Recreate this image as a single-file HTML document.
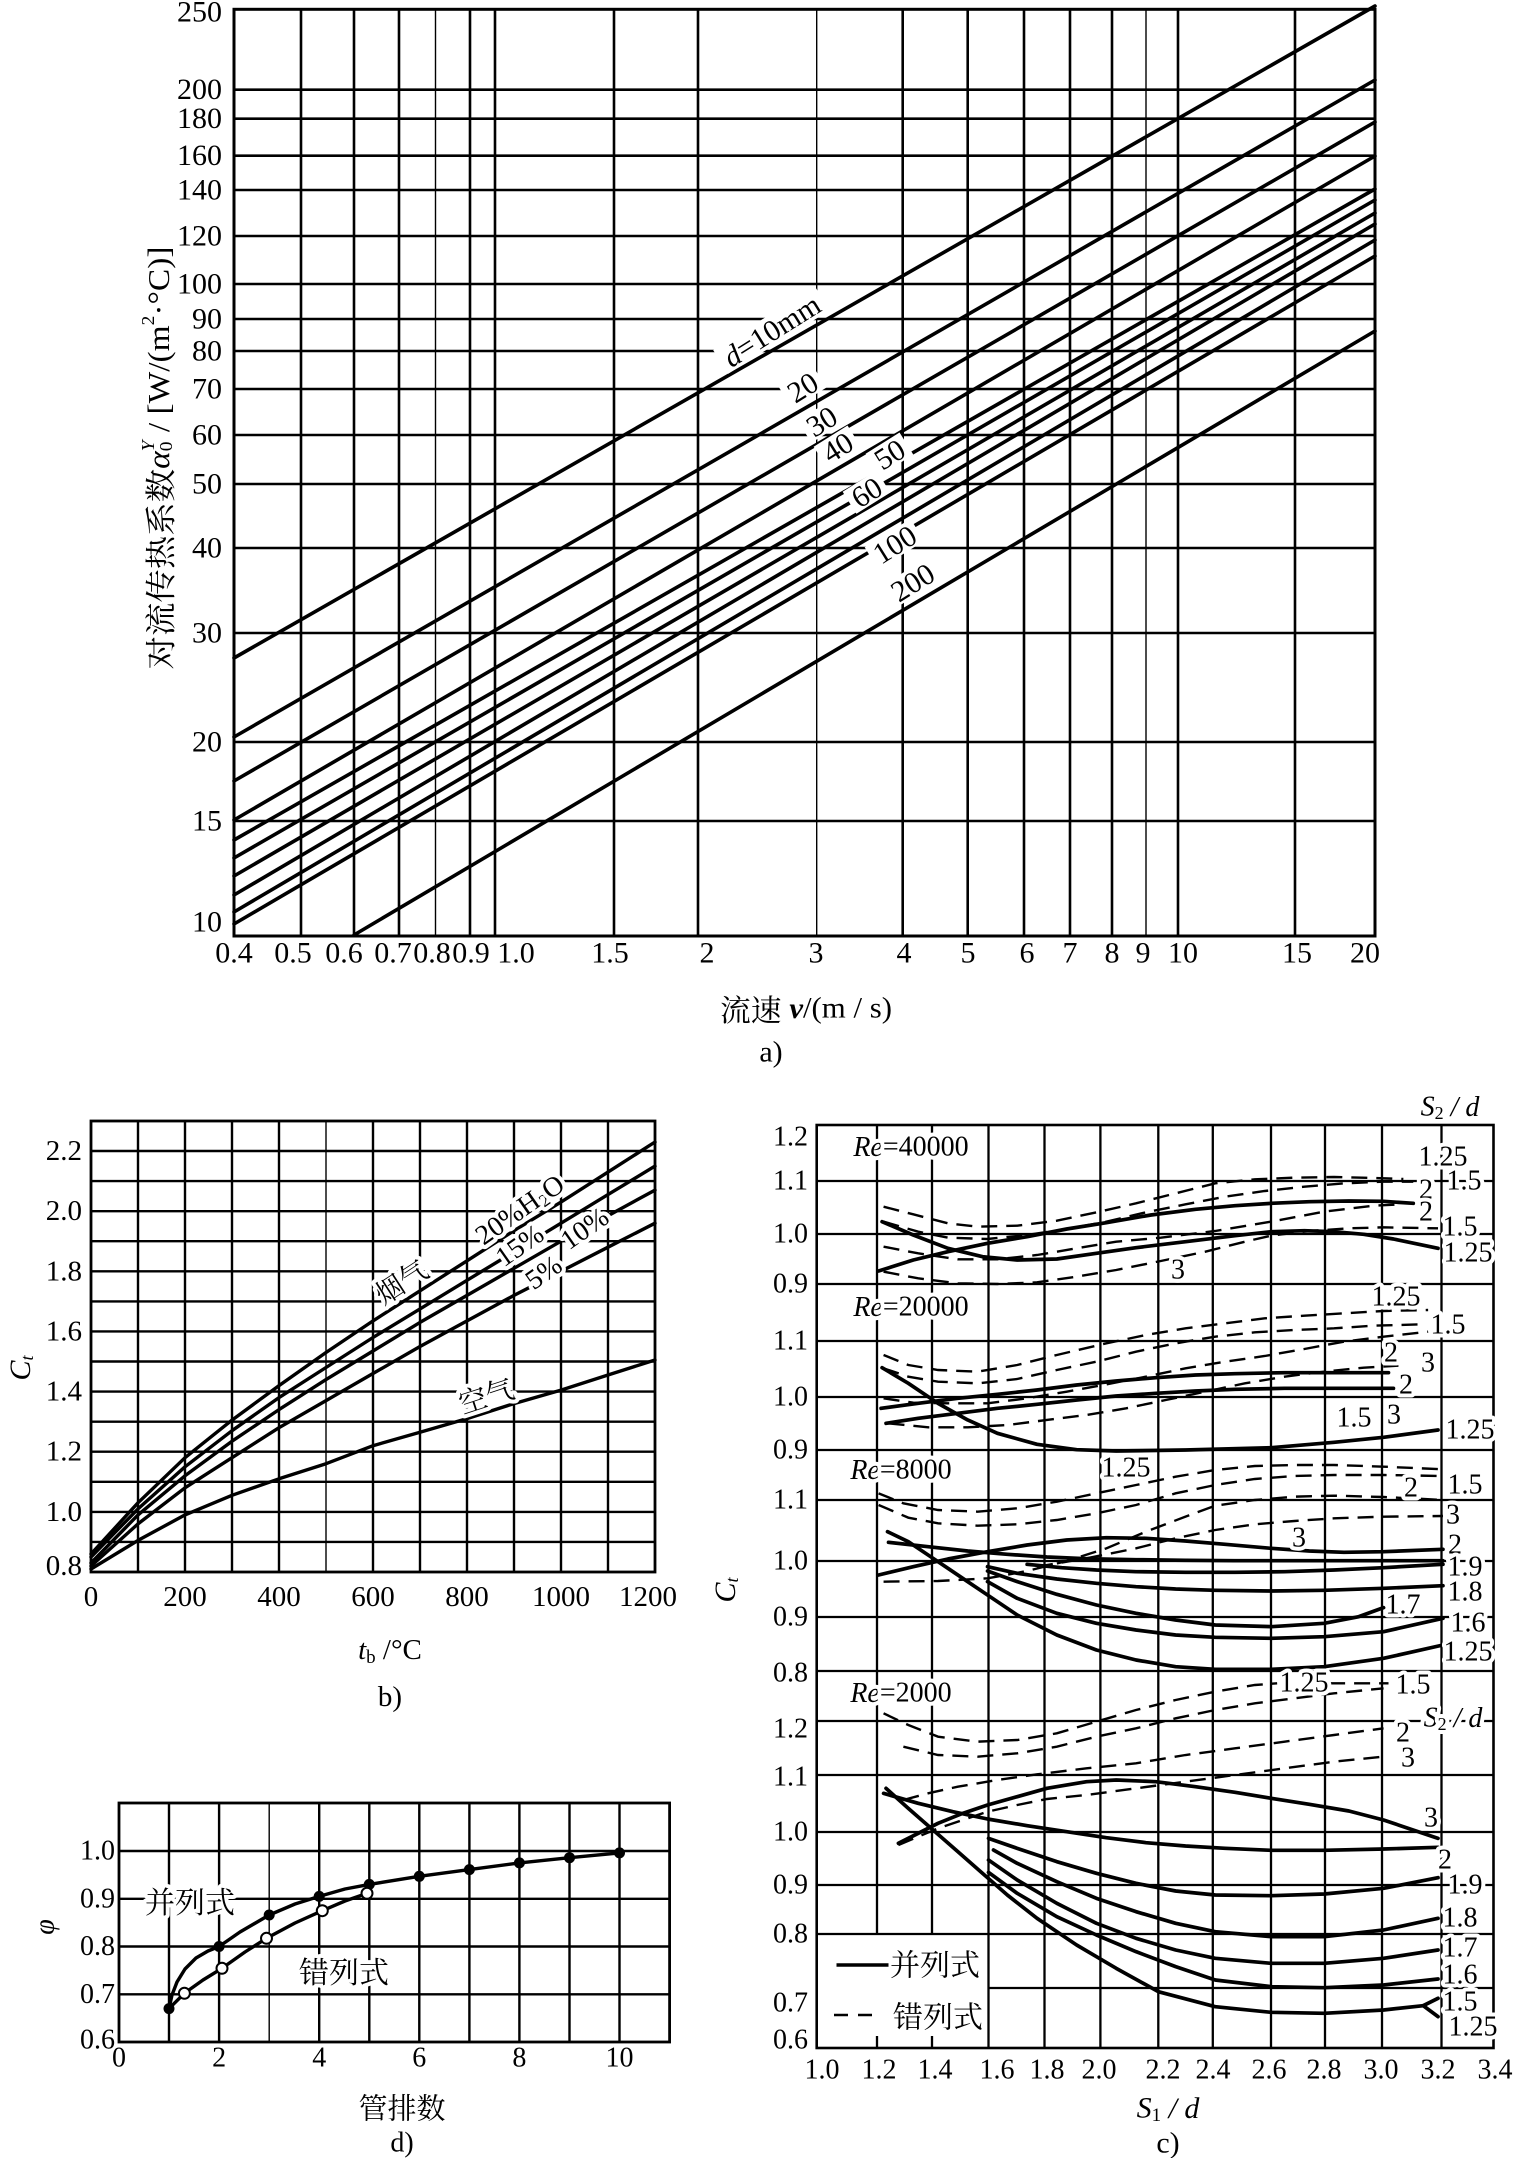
<!DOCTYPE html>
<html><head><meta charset="utf-8"><style>
html,body{margin:0;padding:0;background:#fff;width:1516px;height:2158px;overflow:hidden}
svg{display:block}
text{font-family:"Liberation Serif","Noto Serif CJK SC",serif;fill:#000}
.g{stroke:#000;stroke-width:2.6;fill:none}
.gt{stroke:#000;stroke-width:1.4;fill:none}
.c{stroke:#000;stroke-width:3.6;fill:none;stroke-linejoin:round;stroke-linecap:round}
.cs{stroke:#000;stroke-width:3.7;fill:none;stroke-linejoin:round;stroke-linecap:round;vector-effect:non-scaling-stroke}
.cd{stroke:#000;stroke-width:2.4;fill:none;stroke-dasharray:16 9;vector-effect:non-scaling-stroke}
.h{paint-order:stroke;stroke:#fff;stroke-width:8px;stroke-linejoin:round}
.cj{font-family:"Noto Serif CJK SC","Liberation Serif",serif}
</style></head><body>
<svg width="1516" height="2158" viewBox="0 0 1516 2158" xmlns="http://www.w3.org/2000/svg">
<rect width="1516" height="2158" fill="#fff"/>

<!-- ============ CHART A ============ -->
<g>
<g class="g">
<line x1="234" y1="89.7" x2="1375" y2="89.7"/><line x1="234" y1="118.7" x2="1375" y2="118.7"/>
<line x1="234" y1="155.7" x2="1375" y2="155.7"/><line x1="234" y1="190" x2="1375" y2="190"/>
<line x1="234" y1="236" x2="1375" y2="236"/><line x1="234" y1="284" x2="1375" y2="284"/>
<line x1="234" y1="319" x2="1375" y2="319"/><line x1="234" y1="351" x2="1375" y2="351"/>
<line x1="234" y1="389" x2="1375" y2="389"/><line x1="234" y1="435" x2="1375" y2="435"/>
<line x1="234" y1="484" x2="1375" y2="484"/><line x1="234" y1="548" x2="1375" y2="548"/>
<line x1="234" y1="633" x2="1375" y2="633"/><line x1="234" y1="742" x2="1375" y2="742"/>
<line x1="234" y1="821" x2="1375" y2="821"/>
<line x1="301" y1="9.3" x2="301" y2="936"/><line x1="354" y1="9.3" x2="354" y2="936"/>
<line x1="399" y1="9.3" x2="399" y2="936"/><line x1="470" y1="9.3" x2="470" y2="936"/>
<line x1="495" y1="9.3" x2="495" y2="936"/><line x1="614" y1="9.3" x2="614" y2="936"/>
<line x1="698" y1="9.3" x2="698" y2="936"/><line x1="902.7" y1="9.3" x2="902.7" y2="936"/>
<line x1="967.7" y1="9.3" x2="967.7" y2="936"/><line x1="1024" y1="9.3" x2="1024" y2="936"/>
<line x1="1070" y1="9.3" x2="1070" y2="936"/><line x1="1112" y1="9.3" x2="1112" y2="936"/>
<line x1="1178" y1="9.3" x2="1178" y2="936"/><line x1="1295" y1="9.3" x2="1295" y2="936"/>
</g>
<g class="gt">
<line x1="435.5" y1="9.3" x2="435.5" y2="936"/><line x1="816.7" y1="9.3" x2="816.7" y2="936"/>
<line x1="1146" y1="9.3" x2="1146" y2="936"/>
</g>
<rect x="234" y="9.3" width="1141" height="926.7" fill="none" stroke="#000" stroke-width="3"/>
<g class="c">
<line x1="234" y1="658" x2="1375" y2="6"/>
<line x1="234" y1="737" x2="1375" y2="80"/>
<line x1="234" y1="781" x2="1375" y2="122"/>
<line x1="234" y1="820" x2="1375" y2="156"/>
<line x1="234" y1="840" x2="1375" y2="189"/>
<line x1="234" y1="858" x2="1375" y2="200"/>
<line x1="234" y1="876" x2="1375" y2="213"/>
<line x1="234" y1="895" x2="1375" y2="224"/>
<line x1="234" y1="912" x2="1375" y2="240"/>
<line x1="234" y1="924" x2="1375" y2="256"/>
<line x1="354" y1="935" x2="1375" y2="331"/>
</g>
<!-- line labels -->
<g font-size="30" text-anchor="middle" dominant-baseline="central">
<g transform="translate(772,331) rotate(-32)"><rect x="-60" y="-15" width="120" height="28" fill="#fff"/><text><tspan font-style="italic">d</tspan>=10mm</text></g>
<g transform="translate(803,388) rotate(-32)"><rect x="-20" y="-14" width="40" height="26" fill="#fff"/><text>20</text></g>
<g transform="translate(822,422) rotate(-32)"><rect x="-20" y="-14" width="40" height="26" fill="#fff"/><text>30</text></g>
<g transform="translate(838,448) rotate(-32)"><rect x="-20" y="-14" width="40" height="26" fill="#fff"/><text>40</text></g>
<g transform="translate(890,455) rotate(-32)"><rect x="-20" y="-14" width="40" height="26" fill="#fff"/><text>50</text></g>
<g transform="translate(867,493) rotate(-32)"><rect x="-20" y="-14" width="40" height="26" fill="#fff"/><text>60</text></g>
<g transform="translate(895,545) rotate(-32)"><rect x="-27" y="-14" width="54" height="26" fill="#fff"/><text>100</text></g>
<g transform="translate(913,583) rotate(-32)"><rect x="-27" y="-14" width="54" height="26" fill="#fff"/><text>200</text></g>
</g>
<!-- y tick labels -->
<g font-size="30" text-anchor="end" dominant-baseline="central">
<text x="222" y="12">250</text><text x="222" y="89.7">200</text><text x="222" y="118.7">180</text>
<text x="222" y="155.7">160</text><text x="222" y="190">140</text><text x="222" y="236">120</text>
<text x="222" y="284">100</text><text x="222" y="319">90</text><text x="222" y="351">80</text>
<text x="222" y="389">70</text><text x="222" y="435">60</text><text x="222" y="484">50</text>
<text x="222" y="548">40</text><text x="222" y="633">30</text><text x="222" y="742">20</text>
<text x="222" y="821">15</text><text x="222" y="922">10</text>
</g>
<!-- x tick labels -->
<g font-size="30" text-anchor="middle" dominant-baseline="central">
<text x="234" y="953">0.4</text><text x="293" y="953">0.5</text><text x="344" y="953">0.6</text>
<text x="393" y="953">0.7</text><text x="432" y="953">0.8</text><text x="471" y="953">0.9</text>
<text x="516" y="953">1.0</text><text x="610" y="953">1.5</text><text x="707" y="953">2</text>
<text x="816" y="953">3</text><text x="904" y="953">4</text><text x="968" y="953">5</text>
<text x="1027" y="953">6</text><text x="1070" y="953">7</text><text x="1112" y="953">8</text>
<text x="1143" y="953">9</text><text x="1183" y="953">10</text><text x="1297" y="953">15</text>
<text x="1365" y="953">20</text>
</g>
<text x="720" y="1008" font-size="30" dominant-baseline="central" textLength="172" lengthAdjust="spacingAndGlyphs"><tspan class="cj">流速</tspan> <tspan font-style="italic" font-weight="bold">v</tspan>/(m / s)</text>
<text x="771" y="1052" font-size="30" text-anchor="middle" dominant-baseline="central">a)</text>
<text transform="translate(158,458) rotate(-90)" font-size="31" text-anchor="middle" dominant-baseline="central" textLength="423" lengthAdjust="spacingAndGlyphs"><tspan class="cj">对流传热系数</tspan><tspan font-style="italic">α</tspan><tspan font-size="18" dy="8">0</tspan><tspan font-size="18" dx="-9" dy="-18" font-style="italic">Y</tspan><tspan dy="10"> / [W/(m</tspan><tspan font-size="18" dy="-10">2</tspan><tspan dy="10">·°C)]</tspan></text>
</g>

<!-- ============ CHART B ============ -->
<g>
<g class="g" style="stroke-width:2.4">
<line x1="138" y1="1121" x2="138" y2="1572"/><line x1="185" y1="1121" x2="185" y2="1572"/>
<line x1="232" y1="1121" x2="232" y2="1572"/><line x1="279" y1="1121" x2="279" y2="1572"/>
<line x1="373" y1="1121" x2="373" y2="1572"/><line x1="420" y1="1121" x2="420" y2="1572"/>
<line x1="467" y1="1121" x2="467" y2="1572"/><line x1="514" y1="1121" x2="514" y2="1572"/>
<line x1="561" y1="1121" x2="561" y2="1572"/><line x1="608" y1="1121" x2="608" y2="1572"/>
<line x1="91" y1="1541.9" x2="655" y2="1541.9"/><line x1="91" y1="1511.9" x2="655" y2="1511.9"/>
<line x1="91" y1="1481.8" x2="655" y2="1481.8"/><line x1="91" y1="1451.7" x2="655" y2="1451.7"/>
<line x1="91" y1="1421.7" x2="655" y2="1421.7"/><line x1="91" y1="1391.6" x2="655" y2="1391.6"/>
<line x1="91" y1="1361.5" x2="655" y2="1361.5"/><line x1="91" y1="1331.4" x2="655" y2="1331.4"/>
<line x1="91" y1="1301.4" x2="655" y2="1301.4"/><line x1="91" y1="1271.3" x2="655" y2="1271.3"/>
<line x1="91" y1="1241.2" x2="655" y2="1241.2"/><line x1="91" y1="1211.2" x2="655" y2="1211.2"/>
<line x1="91" y1="1181.1" x2="655" y2="1181.1"/><line x1="91" y1="1151" x2="655" y2="1151"/>
</g>
<line class="gt" x1="326" y1="1121" x2="326" y2="1572"/>
<rect x="91" y="1121" width="564" height="451" fill="none" stroke="#000" stroke-width="2.8"/>
<g class="c" style="stroke-width:3.4">
<polyline points="91,1554 138,1502.8 185,1457.7 232,1420.1 279,1385.6 326,1352.5 373,1320.9 420,1290.8 467,1260.8 514,1230.7 561,1202.1 608,1172.1 655,1142"/>
<polyline points="91,1557 138,1508.9 185,1466.8 232,1430.7 279,1397.6 326,1367.5 373,1337.5 420,1308.9 467,1280.3 514,1251.8 561,1223.2 608,1194.6 655,1166.1"/>
<polyline points="91,1563 138,1514.9 185,1475.8 232,1441.2 279,1409.6 326,1379.6 373,1351 420,1322.4 467,1295.4 514,1268.3 561,1241.2 608,1215.7 655,1190.1"/>
<polyline points="91,1566 138,1523.9 185,1487.8 232,1457.7 279,1427.7 326,1400.6 373,1373.5 420,1346.5 467,1320.9 514,1295.4 561,1271.3 608,1247.2 655,1223.2"/>
<polyline points="91,1569 138,1540.4 185,1514.9 232,1495.3 279,1478.8 326,1463.7 373,1445.7 420,1432.2 467,1418.6 514,1403.6 561,1390.1 608,1375 655,1360"/>
</g>
<g font-size="28" text-anchor="middle" dominant-baseline="central">
<g transform="translate(401,1281) rotate(-33)"><text class="cj h">烟气</text></g>
<g transform="translate(520,1210) rotate(-35)"><text class="h">20%H<tspan font-size="18" dy="6">2</tspan><tspan dy="-6">O</tspan></text></g>
<g transform="translate(520,1246) rotate(-35)"><text class="h">15%</text></g>
<g transform="translate(585,1229) rotate(-35)"><text class="h">10%</text></g>
<g transform="translate(544,1273) rotate(-35)"><text class="h">5%</text></g>
<g transform="translate(486,1395) rotate(-18)"><text class="cj h">空气</text></g>
</g>
<g font-size="29" text-anchor="end" dominant-baseline="central">
<text x="82" y="1566">0.8</text><text x="82" y="1511.9">1.0</text><text x="82" y="1451.7">1.2</text>
<text x="82" y="1391.6">1.4</text><text x="82" y="1331.4">1.6</text><text x="82" y="1271.3">1.8</text>
<text x="82" y="1211.2">2.0</text><text x="82" y="1151">2.2</text>
</g>
<g font-size="29" text-anchor="middle" dominant-baseline="central">
<text x="91" y="1597">0</text><text x="185" y="1597">200</text><text x="279" y="1597">400</text>
<text x="373" y="1597">600</text><text x="467" y="1597">800</text><text x="561" y="1597">1000</text>
<text x="648" y="1597">1200</text>
<text x="390" y="1650"><tspan font-style="italic">t</tspan><tspan font-size="19" dy="7">b</tspan><tspan dy="-7"> /°C</tspan></text>
<text x="390" y="1697">b)</text>
<text transform="translate(20,1368) rotate(-90)" font-size="30"><tspan font-style="italic">C</tspan><tspan font-size="18" dy="7" font-style="italic">t</tspan></text>
</g>
</g>

<!-- ============ CHART D ============ -->
<g>
<g class="g" style="stroke-width:2.4">
<line x1="169" y1="1803" x2="169" y2="2042"/><line x1="219.1" y1="1803" x2="219.1" y2="2042"/>
<line x1="319.2" y1="1803" x2="319.2" y2="2042"/><line x1="369.3" y1="1803" x2="369.3" y2="2042"/>
<line x1="419.3" y1="1803" x2="419.3" y2="2042"/><line x1="469.4" y1="1803" x2="469.4" y2="2042"/>
<line x1="519.4" y1="1803" x2="519.4" y2="2042"/><line x1="569.5" y1="1803" x2="569.5" y2="2042"/>
<line x1="619.5" y1="1803" x2="619.5" y2="2042"/>
<line x1="119" y1="1994.3" x2="669.6" y2="1994.3"/><line x1="119" y1="1946.5" x2="669.6" y2="1946.5"/>
<line x1="119" y1="1898.8" x2="669.6" y2="1898.8"/><line x1="119" y1="1851" x2="669.6" y2="1851"/>
</g>
<line class="gt" x1="269.2" y1="1803" x2="269.2" y2="2042"/>
<rect x="119" y="1803" width="550.6" height="239" fill="none" stroke="#000" stroke-width="2.8"/>
<g font-size="30" text-anchor="middle" dominant-baseline="central">
<text x="190" y="1900" class="cj h">并列式</text>
<text x="344" y="1970" class="cj h">错列式</text>
</g>
<g class="c" style="stroke-width:3.4">
<polyline points="169,2008.6 172,1995 177,1982 185,1969 196,1958 208,1951 219.1,1946.5 240,1932 269.2,1915 295,1904 319.2,1896.4 345,1889 369.3,1884.4 419.3,1876.3 469.4,1869.6 519.4,1862.9 569.5,1857.7 619.5,1852.9"/>
<polyline points="169,2008.6 184.4,1993.3 203,1980 222,1968.3 245,1952 266.5,1938.3 295,1923 322.3,1910.7 345,1901 367,1893.3"/>
</g>
<g fill="#000">
<circle cx="169" cy="2008.6" r="5.5"/><circle cx="219.1" cy="1946.5" r="5.5"/><circle cx="269.2" cy="1915" r="5.5"/>
<circle cx="319.2" cy="1896.4" r="5.5"/><circle cx="369.3" cy="1884.4" r="5.5"/><circle cx="419.3" cy="1876.3" r="5.5"/>
<circle cx="469.4" cy="1869.6" r="5.5"/><circle cx="519.4" cy="1862.9" r="5.5"/><circle cx="569.5" cy="1857.7" r="5.5"/>
<circle cx="619.5" cy="1852.9" r="5.5"/>
</g>
<g fill="#fff" stroke="#000" stroke-width="2">
<circle cx="184.4" cy="1993.3" r="5.5"/><circle cx="222" cy="1968.3" r="5.5"/><circle cx="266.5" cy="1938.3" r="5.5"/>
<circle cx="322.3" cy="1910.7" r="5.5"/><circle cx="367" cy="1893.3" r="5.5"/>
</g>
<g font-size="28" text-anchor="end" dominant-baseline="central">
<text x="115" y="1851">1.0</text><text x="115" y="1898.8">0.9</text><text x="115" y="1946.5">0.8</text>
<text x="115" y="1994.3">0.7</text><text x="115" y="2040">0.6</text>
</g>
<g font-size="28" text-anchor="middle" dominant-baseline="central">
<text x="119" y="2058">0</text><text x="219.1" y="2058">2</text><text x="319.2" y="2058">4</text>
<text x="419.3" y="2058">6</text><text x="519.4" y="2058">8</text><text x="619.5" y="2058">10</text>
<text x="402" y="2107" class="cj" font-size="29">管排数</text>
<text x="402" y="2143">d)</text>
<text transform="translate(45,1927) rotate(-90)" font-style="italic" font-size="28">φ</text>
</g>
</g>

<!-- ============ CHART C ============ -->
<g>
<g class="g" style="stroke-width:2.3">
<line x1="877" y1="1125" x2="877" y2="1934"/><line x1="932" y1="1125" x2="932" y2="1934"/>
<line x1="877" y1="2036" x2="877" y2="2048"/><line x1="932" y1="2036" x2="932" y2="2048"/>
<line x1="988.5" y1="1125" x2="988.5" y2="2048"/><line x1="1044.5" y1="1125" x2="1044.5" y2="2048"/>
<line x1="1100.4" y1="1125" x2="1100.4" y2="2048"/><line x1="1158.3" y1="1125" x2="1158.3" y2="2048"/>
<line x1="1212.8" y1="1125" x2="1212.8" y2="2048"/><line x1="1271" y1="1125" x2="1271" y2="2048"/>
<line x1="1325" y1="1125" x2="1325" y2="2048"/><line x1="1382" y1="1125" x2="1382" y2="2048"/>
<line x1="1441.5" y1="1125" x2="1441.5" y2="2048"/>
<line x1="816.7" y1="1181" x2="1493.5" y2="1181"/><line x1="816.7" y1="1234" x2="1493.5" y2="1234"/>
<line x1="816.7" y1="1284" x2="1493.5" y2="1284"/><line x1="816.7" y1="1341" x2="1493.5" y2="1341"/>
<line x1="816.7" y1="1397" x2="1493.5" y2="1397"/><line x1="816.7" y1="1450" x2="1493.5" y2="1450"/>
<line x1="816.7" y1="1500" x2="1493.5" y2="1500"/><line x1="816.7" y1="1561" x2="1493.5" y2="1561"/>
<line x1="816.7" y1="1617" x2="1493.5" y2="1617"/><line x1="816.7" y1="1671" x2="1493.5" y2="1671"/>
<line x1="816.7" y1="1721" x2="1493.5" y2="1721"/><line x1="816.7" y1="1775" x2="1493.5" y2="1775"/>
<line x1="816.7" y1="1832" x2="1493.5" y2="1832"/><line x1="816.7" y1="1885" x2="1493.5" y2="1885"/>
<line x1="816.7" y1="1934" x2="1493.5" y2="1934"/><line x1="988.5" y1="1988" x2="1493.5" y2="1988"/>
</g>
<rect x="816.7" y="1125" width="676.8" height="923" fill="none" stroke="#000" stroke-width="2.6"/>

<!-- Re=40000 & Re=20000 -->
<g transform="translate(740,1075) scale(0.49505,0.33333)">
<polyline class="cs" points="287,440 350,480 420,520 490,545 560,555 640,552 720,535 800,518 900,500 1000,482 1073,470 1140,467 1200,470 1260,478 1320,492 1410,520"/>
<polyline class="cs" points="280,588 350,555 420,530 500,505 580,485 660,462 740,443 830,420 920,403 1000,392 1073,385 1150,380 1230,378 1300,379 1360,385"/>
<polyline class="cd" points="290,395 350,418 420,445 480,455 560,452 640,437 720,412 800,385 880,355 960,325 1040,313 1120,308 1200,306 1280,309 1340,312"/>
<polyline class="cd" points="290,440 360,470 420,488 500,492 580,480 660,462 740,440 820,412 900,388 980,365 1060,348 1140,335 1220,325 1300,320 1360,320"/>
<polyline class="cd" points="290,515 360,535 440,553 520,553 600,540 680,520 760,500 850,488 960,468 1073,440 1180,410 1280,392 1340,388"/>
<polyline class="cd" points="290,590 360,610 440,625 520,627 600,622 680,605 760,585 850,558 940,530 1020,500 1073,482 1150,468 1230,460 1300,457 1410,460"/>
<polyline class="cs" points="287,878 340,925 400,985 460,1035 520,1075 600,1108 680,1124 760,1128 900,1125 1073,1118 1200,1102 1300,1087 1410,1065"/>
<polyline class="cs" points="285,1000 360,985 440,970 520,958 600,945 680,930 760,918 840,908 920,900 1000,896 1100,893 1200,893 1310,893"/>
<polyline class="cs" points="295,1045 360,1030 440,1015 520,1000 600,988 680,975 760,963 840,955 920,948 1000,943 1100,940 1200,940 1320,940"/>
<polyline class="cd" points="290,840 340,870 400,885 480,890 560,870 640,840 740,805 820,780 900,760 980,745 1060,730 1140,722 1220,715 1300,708 1390,705"/>
<polyline class="cd" points="290,880 340,905 400,920 480,925 560,912 640,885 720,860 800,830 880,805 960,785 1040,772 1120,765 1200,760 1280,752 1380,748"/>
<polyline class="cd" points="290,970 350,983 420,985 500,985 580,970 660,950 740,928 820,905 900,880 980,860 1060,843 1140,822 1220,800 1300,785 1390,770"/>
<polyline class="cd" points="300,1045 380,1057 460,1057 540,1050 620,1035 700,1020 780,1000 860,975 940,950 1020,925 1100,905 1180,890 1260,878 1330,872"/>
</g>
<!-- Re=8000 -->
<g transform="translate(740,1435) scale(0.49505,0.33333)">
<polyline class="cd" points="280,175 330,205 400,225 480,230 560,220 640,200 720,175 800,150 880,125 960,105 1040,93 1120,90 1200,90 1300,95 1420,103"/>
<polyline class="cd" points="280,210 340,248 400,265 480,272 560,268 640,255 720,235 800,210 880,175 960,150 1040,132 1120,123 1200,120 1300,120 1420,123"/>
<polyline class="cd" points="290,440 400,438 500,430 580,408 660,378 740,340 820,290 900,245 960,212 1040,195 1120,185 1200,182 1300,186 1420,195"/>
<polyline class="cd" points="600,395 700,370 800,340 880,310 960,285 1040,268 1120,258 1200,250 1300,245 1420,243"/>
<polyline class="cs" points="280,420 350,395 420,372 500,350 580,330 660,315 740,308 820,310 900,318 980,328 1073,340 1150,348 1220,352 1300,350 1420,343"/>
<polyline class="cs" points="300,322 380,335 460,348 540,358 620,366 700,371 800,374 900,376 1000,377 1100,377 1200,377 1300,377 1420,377"/>
<polyline class="cs" points="580,388 650,398 720,405 800,410 900,412 1000,412 1100,410 1200,405 1300,398 1420,388"/>
<polyline class="cs" points="500,395 560,415 640,432 720,445 800,455 880,462 960,466 1073,468 1180,466 1300,460 1420,452"/>
<polyline class="cs" points="500,408 560,440 640,478 720,510 800,535 880,555 960,570 1073,575 1180,565 1250,545 1300,518"/>
<polyline class="cs" points="500,440 560,490 640,535 720,565 800,585 880,600 960,607 1073,610 1180,605 1300,590 1420,550"/>
<polyline class="cs" points="298,290 340,320 380,360 420,400 460,440 500,480 560,540 640,600 720,645 800,675 880,695 960,703 1073,703 1180,695 1300,670 1420,630"/>
</g>
<!-- Re=2000 -->
<g transform="translate(740,1795) scale(0.49505,0.33333)">
<polyline class="cd" points="290,-245 340,-210 400,-175 480,-160 560,-165 640,-185 720,-220 800,-255 880,-285 960,-310 1040,-330 1085,-335"/>
<polyline class="cd" points="1190,-335 1310,-335"/>
<polyline class="cd" points="330,-145 400,-120 480,-115 560,-125 640,-145 720,-175 800,-200 880,-230 960,-255 1040,-275 1120,-290 1200,-305 1300,-320"/>
<polyline class="cd" points="330,15 380,-5 440,-25 520,-45 600,-62 700,-80 800,-95 900,-120 1000,-140 1100,-160 1200,-180 1300,-200"/>
<polyline class="cd" points="320,150 360,125 400,100 450,75 500,50 560,30 620,12 700,0 800,-20 900,-40 1000,-60 1100,-80 1200,-100 1300,-115"/>
<polyline class="cs" points="320,145 360,115 400,85 450,55 500,30 560,5 620,-20 700,-40 760,-45 840,-40 920,-25 1000,-8 1073,10 1150,28 1230,48 1300,75 1410,130"/>
<polyline class="cs" points="290,-5 360,25 430,50 500,72 580,92 660,110 740,128 820,143 900,153 980,160 1073,166 1180,166 1300,162 1410,157"/>
<polyline class="cs" points="502,130 560,160 640,200 720,235 800,265 880,288 960,300 1073,302 1180,297 1300,280 1410,248"/>
<polyline class="cs" points="512,165 560,205 640,260 720,310 800,350 880,385 960,410 1073,425 1180,425 1300,405 1410,370"/>
<polyline class="cs" points="502,195 560,255 640,325 720,385 800,430 880,465 960,490 1073,505 1180,505 1300,490 1410,465"/>
<polyline class="cs" points="502,232 560,295 640,365 720,420 800,470 880,515 960,555 1073,575 1180,578 1300,570 1410,552"/>
<polyline class="cs" points="295,-20 340,40 390,105 440,170 490,235 540,300 600,370 680,450 760,520 845,590 960,635 1073,652 1180,655 1300,645 1380,632 1410,610"/>
<polyline class="cs" points="1380,632 1410,665"/>
</g>
<!-- legend -->
<line x1="836.5" y1="1965" x2="888.5" y2="1965" stroke="#000" stroke-width="3.6"/>
<line x1="834" y1="2015" x2="876" y2="2015" stroke="#000" stroke-width="2.4" stroke-dasharray="14 10"/>
<g font-size="30" class="cj" text-anchor="middle" dominant-baseline="central">
<text x="935" y="1966">并列式</text><text x="938" y="2018">错列式</text>
</g>
<!-- labels -->
<g font-size="28" text-anchor="middle" dominant-baseline="central">
<text class="h" x="911" y="1147"><tspan font-style="italic">Re</tspan>=40000</text>
<text class="h" x="911" y="1307"><tspan font-style="italic">Re</tspan>=20000</text>
<text class="h" x="901" y="1470"><tspan font-style="italic">Re</tspan>=8000</text>
<text class="h" x="901" y="1693"><tspan font-style="italic">Re</tspan>=2000</text>
<text class="h" x="1443" y="1157">1.25</text><text class="h" x="1464" y="1181">1.5</text>
<text class="h" x="1426" y="1190">2</text><text class="h" x="1426" y="1212">2</text>
<text class="h" x="1460" y="1227">1.5</text><text class="h" x="1468" y="1253">1.25</text>
<text class="h" x="1178" y="1270">3</text>
<text class="h" x="1396" y="1297">1.25</text><text class="h" x="1448" y="1325">1.5</text>
<text class="h" x="1391" y="1353">2</text><text class="h" x="1428" y="1363">3</text>
<text class="h" x="1406" y="1385">2</text><text class="h" x="1354" y="1418">1.5</text>
<text class="h" x="1394" y="1415">3</text><text class="h" x="1470" y="1430">1.25</text>
<text class="h" x="1126" y="1468">1.25</text><text class="h" x="1411" y="1488">2</text>
<text class="h" x="1465" y="1485">1.5</text><text class="h" x="1453" y="1515">3</text>
<text class="h" x="1299" y="1538">3</text><text class="h" x="1455" y="1545">2</text>
<text class="h" x="1465" y="1567">1.9</text><text class="h" x="1465" y="1592">1.8</text>
<text class="h" x="1403" y="1605">1.7</text><text class="h" x="1468" y="1623">1.6</text>
<text class="h" x="1468" y="1652">1.25</text>
<text class="h" x="1304" y="1683">1.25</text><text class="h" x="1413" y="1685">1.5</text>
<text class="h" x="1453" y="1718" font-style="italic">S<tspan font-size="18" dy="6" font-style="normal">2</tspan><tspan dy="-6"> / d</tspan></text>
<text class="h" x="1403" y="1733">2</text><text class="h" x="1408" y="1758">3</text>
<text class="h" x="1431" y="1818">3</text><text class="h" x="1445" y="1860">2</text>
<text class="h" x="1465" y="1885">1.9</text><text class="h" x="1460" y="1918">1.8</text>
<text class="h" x="1460" y="1948">1.7</text><text class="h" x="1460" y="1975">1.6</text>
<text class="h" x="1460" y="2002">1.5</text><text class="h" x="1473" y="2027">1.25</text>
<text x="1450" y="1107" font-style="italic">S<tspan font-size="18" dy="6" font-style="normal">2</tspan><tspan dy="-6"> / d</tspan></text>
</g>
<g font-size="28" text-anchor="end" dominant-baseline="central">
<text x="808" y="1137">1.2</text><text x="808" y="1181">1.1</text><text x="808" y="1234">1.0</text>
<text x="808" y="1284">0.9</text><text x="808" y="1341">1.1</text><text x="808" y="1397">1.0</text>
<text x="808" y="1450">0.9</text><text x="808" y="1500">1.1</text><text x="808" y="1561">1.0</text>
<text x="808" y="1617">0.9</text><text x="808" y="1673">0.8</text><text x="808" y="1729">1.2</text>
<text x="808" y="1777">1.1</text><text x="808" y="1832">1.0</text><text x="808" y="1885">0.9</text>
<text x="808" y="1934">0.8</text><text x="808" y="2003">0.7</text><text x="808" y="2040">0.6</text>
</g>
<g font-size="28" text-anchor="middle" dominant-baseline="central">
<text x="822" y="2070">1.0</text><text x="879" y="2070">1.2</text><text x="935" y="2070">1.4</text>
<text x="997" y="2070">1.6</text><text x="1047" y="2070">1.8</text><text x="1099" y="2070">2.0</text>
<text x="1163" y="2070">2.2</text><text x="1213" y="2070">2.4</text><text x="1269" y="2070">2.6</text>
<text x="1324" y="2070">2.8</text><text x="1381" y="2070">3.0</text><text x="1438" y="2070">3.2</text>
<text x="1495" y="2070">3.4</text>
<text x="1168" y="2108" font-size="30" font-style="italic">S<tspan font-size="19" dy="7" font-style="normal">1</tspan><tspan dy="-7"> / d</tspan></text>
<text x="1168" y="2143" font-size="30">c)</text>
<text transform="translate(725,1590) rotate(-90)" font-size="30"><tspan font-style="italic">C</tspan><tspan font-size="18" dy="7" font-style="italic">t</tspan></text>
</g>
</g>
</svg>
</body></html>
